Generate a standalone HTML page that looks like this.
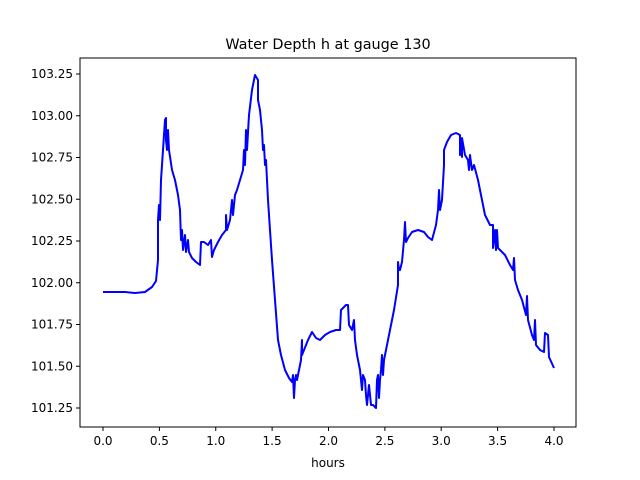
<!DOCTYPE html>
<html><head><meta charset="utf-8"><style>body{margin:0;background:#fff}svg{display:block}text{font-family:"DejaVu Sans","Liberation Sans",sans-serif;font-size:12px;fill:#000}</style></head><body>
<svg width="640" height="480" viewBox="0 0 640 480">
<rect x="0" y="0" width="640" height="480" fill="#fff"/>
<text x="328" y="49" text-anchor="middle" style="font-size:14.4px">Water Depth h at gauge 130</text>
<polyline fill="none" stroke="#0000ff" stroke-width="2" stroke-linejoin="round" points="103,292 125,292 135,293 145,292 152,287 156,281 158,260 158,220 159,205 160,220 161,180 163,150 165,120 166,118 166,140 167,150 168,130 169,150 172,170 175,180 178,195 180,210 181,240 182,230 183,250 185,235 186,252 188,240 189,252 192,258 196,262 200,265 201,242 204,242 208,245 211,240 212,257 214,250 218,242 222,235 226,230 226,215 227,230 230,220 232,200 233,215 235,195 237,190 240,180 243,170 244,150 245,165 246,130 247,150 249,115 252,90 255,75 258,80 258,100 260,110 262,130 263,150 264,145 265,165 266,160 268,200 272,260 275,300 278,340 281,355 285,370 289,378 292,382 293,375 294,398 295,380 296,375 297,380 299,370 301,360 302,340 302,355 304,350 308,340 312,332 316,338 320,340 325,335 330,332 336,330 340,330 341,310 346,305 348,305 349,325 352,330 354,320 355,340 357,355 360,370 362,390 363,375 365,380 366,395 367,405 369,385 371,405 373,405 376,408 377,380 378,375 379,398 380,380 381,370 382,355 383,375 384,360 387,345 390,330 394,310 398,285 398,262 399,270 400,270 402,262 404,240 405,222 406,242 408,238 412,232 418,230 424,232 428,237 432,240 436,225 438,210 439,190 440,210 442,200 444,165 444,150 447,142 451,135 456,133 460,135 460,155 461,140 462,157 462,138 465,155 468,160 469,170 470,155 472,170 474,165 478,180 482,200 485,215 490,225 493,225 493,248 495,230 496,250 497,230 498,248 500,250 505,255 510,265 513,270 514,258 515,280 518,290 522,300 526,315 527,296 528,320 532,335 534,340 535,320 536,345 540,350 544,352 545,333 548,335 549,357 554,368"/>
<rect x="80" y="58" width="496" height="369" fill="none" stroke="#000" stroke-width="1"/>
<g stroke="#000" stroke-width="1">
<line x1="103" y1="427" x2="103" y2="431"/><line x1="159.4" y1="427" x2="159.4" y2="431"/><line x1="215.75" y1="427" x2="215.75" y2="431"/><line x1="272.1" y1="427" x2="272.1" y2="431"/><line x1="328.5" y1="427" x2="328.5" y2="431"/><line x1="384.9" y1="427" x2="384.9" y2="431"/><line x1="441.2" y1="427" x2="441.2" y2="431"/><line x1="497.6" y1="427" x2="497.6" y2="431"/><line x1="554" y1="427" x2="554" y2="431"/>
<line x1="76" y1="408" x2="80" y2="408"/><line x1="76" y1="366.25" x2="80" y2="366.25"/><line x1="76" y1="324.5" x2="80" y2="324.5"/><line x1="76" y1="282.75" x2="80" y2="282.75"/><line x1="76" y1="241" x2="80" y2="241"/><line x1="76" y1="199.25" x2="80" y2="199.25"/><line x1="76" y1="157.5" x2="80" y2="157.5"/><line x1="76" y1="115.75" x2="80" y2="115.75"/><line x1="76" y1="74" x2="80" y2="74"/>
</g>
<g text-anchor="middle">
<text x="103" y="445">0.0</text><text x="159.4" y="445">0.5</text><text x="215.75" y="445">1.0</text><text x="272.1" y="445">1.5</text><text x="328.5" y="445">2.0</text><text x="384.9" y="445">2.5</text><text x="441.2" y="445">3.0</text><text x="497.6" y="445">3.5</text><text x="554" y="445">4.0</text>
<text x="328" y="467">hours</text>
</g>
<g text-anchor="end">
<text x="73" y="412">101.25</text><text x="73" y="370.25">101.50</text><text x="73" y="328.5">101.75</text><text x="73" y="286.75">102.00</text><text x="73" y="245">102.25</text><text x="73" y="203.25">102.50</text><text x="73" y="161.5">102.75</text><text x="73" y="119.75">103.00</text><text x="73" y="78">103.25</text>
</g>
</svg>
</body></html>
